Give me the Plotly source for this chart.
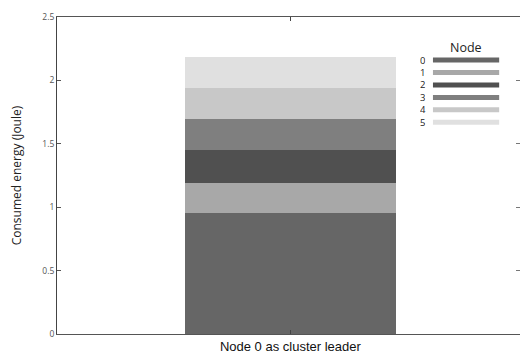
import plotly.graph_objects as go

categories = ["Node 0 as cluster leader"]
nodes = ["0", "1", "2", "3", "4", "5"]
energy = [0.952, 0.241, 0.258, 0.242, 0.245, 0.244]
colors = ["#666666", "#a8a8a8", "#505050", "#7f7f7f", "#c8c8c8", "#e0e0e0"]
y_ticks = [0, 0.5, 1, 1.5, 2, 2.5]
y_tick_labels = ["0", "0.5", "1", "1.5", "2", "2.5"]

fig = go.Figure()
for name, val, col in zip(nodes, energy, colors):
    fig.add_trace(go.Bar(x=categories, y=[val], name=name, marker_color=col,
                         marker_line_width=0, width=0.455, showlegend=False))

# right-side inward ticks (no line)
fig.add_trace(go.Scatter(x=categories, y=[None], yaxis="y2", showlegend=False,
                         hoverinfo="skip"))

# legend drawn as wide line swatches
leg_x0, leg_x1, leg_lab_x = 0.812, 0.955, 0.790
leg_top, leg_step = 0.864, 0.0392
shapes = []
annotations = [dict(text="Node", x=0.883, y=0.903, xref="paper", yref="paper",
                    showarrow=False, font=dict(family="Open Sans", size=12.5, color="#222"),
                    xanchor="center", yanchor="middle")]
for i, (name, col) in enumerate(zip(nodes, colors)):
    yy = leg_top - i * leg_step
    shapes.append(dict(type="line", xref="paper", yref="paper", x0=leg_x0, x1=leg_x1,
                       y0=yy, y1=yy, line=dict(color=col, width=5)))
    annotations.append(dict(text=name, x=leg_lab_x, y=yy, xref="paper", yref="paper",
                            showarrow=False, xanchor="center", yanchor="middle",
                            height=11,
                            font=dict(family="Open Sans", size=9.5, color="#222")))

fig.update_layout(
    width=520, height=355,
    margin=dict(l=57, r=0, t=17, b=21, autoexpand=False),
    paper_bgcolor="white", plot_bgcolor="white",
    barmode="stack", bargap=0,
    shapes=shapes, annotations=annotations,
    xaxis=dict(range=[-0.504, 0.496], showline=True, linecolor="#555", linewidth=1.2,
               mirror="ticks", ticks="inside", ticklen=4, tickcolor="#444",
               automargin=False, ticklabelstandoff=0,
               tickfont=dict(family="Liberation Sans", size=13, color="#111"),
               showgrid=False, zeroline=False),
    yaxis=dict(range=[0, 2.5], tickvals=y_ticks, ticktext=y_tick_labels,
               showline=True, linecolor="#444", linewidth=1, ticks="inside",
               ticklen=4, tickcolor="#555", showgrid=False, zeroline=False,
               automargin=False,
               tickfont=dict(family="Open Sans", size=8.5, color="#555"),
               title=dict(text="Consumed energy (Joule)",
                          font=dict(family="Open Sans", size=12, color="#222"),
                          standoff=18)),
    yaxis2=dict(range=[0, 2.5], tickvals=y_ticks, overlaying="y", side="right",
                showticklabels=False, ticks="inside", ticklen=4, tickcolor="#777",
                automargin=False,
                showline=False, showgrid=False, zeroline=False),
)

fig.write_html("out.html", config={"displayModeBar": False},
               post_script="document.body.style.margin='0';document.body.style.overflow='hidden';")
